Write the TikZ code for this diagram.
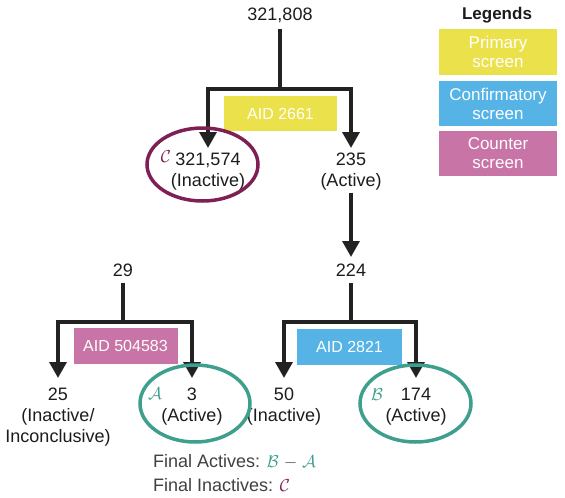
\documentclass[tikz,border=0pt]{standalone}
\usepackage{fontspec}
\setmainfont{Liberation Sans}
\usetikzlibrary{arrows.meta,shapes.geometric}
\definecolor{txt}{HTML}{1C1C1C}
\definecolor{ln}{HTML}{222222}
\definecolor{yel}{HTML}{EBE14A}
\definecolor{blu}{HTML}{55B3E6}
\definecolor{pnk}{HTML}{C974A6}
\definecolor{teal}{HTML}{3F9F8D}
\definecolor{maroon}{HTML}{7E1F55}
\definecolor{gry}{HTML}{404040}
\begin{document}
\begin{tikzpicture}[x=1pt,y=-1pt,
  lbl/.style={font=\fontsize{18}{21}\selectfont, align=center, inner sep=0pt, anchor=north, text=txt},
  scrbox/.style={fill=#1, inner sep=0pt, text=white, font=\fontsize{16}{19}\selectfont, align=center},
  wire/.style={line width=3.5pt, draw=ln, line join=miter},
  arr/.style={wire, -{Triangle[width=17pt,length=16pt]}},
  ring/.style={draw=#1, line width=3.5pt, ellipse, inner sep=0pt},
  scr/.style={inner sep=0pt, text=#1, font=\fontsize{18}{21}\selectfont},
  fin/.style={anchor=west, inner sep=0pt, text=gry, font=\fontsize{18}{21}\selectfont}
]
\useasboundingbox (0,0) rectangle (565,498);

% legend
\node[inner sep=0pt, font=\fontsize{17}{20}\selectfont\bfseries, text=txt] (leg) at (497,15) {Legends};
\node[scrbox=yel, minimum width=118pt, minimum height=46pt, font=\fontsize{17}{19}\selectfont] (lg1) at (498,52) {Primary\\screen};
\node[scrbox=blu, minimum width=118pt, minimum height=45pt, font=\fontsize{17}{19}\selectfont] (lg2) at (498,103.5) {Confirmatory\\screen};
\node[scrbox=pnk, minimum width=118pt, minimum height=45pt, font=\fontsize{17}{19}\selectfont] (lg3) at (498,153.5) {Counter\\screen};

% nodes
\node[lbl] (n0) at (280,8) {321,808};
\coordinate (j1) at (280,89);
\node[lbl] (nC) at (208,153) {321,574\\(Inactive)};
\node[lbl] (nA1) at (351,153) {235\\(Active)};
\node[lbl] (n224) at (351,264) {224};
\coordinate (j2) at (351,322);
\node[lbl] (n29) at (123,264) {29};
\coordinate (j3) at (123,322);
\node[lbl] (n25) at (58,388) {25\\(Inactive/\\Inconclusive)};
\node[lbl] (n3) at (192,388) {3\\(Active)};
\node[lbl] (n50) at (284,388) {50\\(Inactive)};
\node[lbl] (n174) at (416,388) {174\\(Active)};

% screen boxes
\node[scrbox=yel, minimum width=113pt, minimum height=35pt] (b1) at (280.5,113.5) {AID 2661};
\node[scrbox=pnk, minimum width=104pt, minimum height=36pt] (b2) at (125.5,346) {AID 504583};
\node[scrbox=blu, minimum width=105pt, minimum height=36pt] (b3) at (349.5,347) {AID 2821};

% connectors
\draw[wire, shorten <=6pt] (n0.south) -- (j1);
\draw[arr, shorten >=5pt] (j1) -| (nC.north);
\draw[arr, shorten >=5pt] (j1) -| (nA1.north);
\draw[arr, shorten <=2pt, shorten >=7pt] (nA1.south) -- (n224.north);
\draw[wire, shorten <=6pt] (n224.south) -- (j2);
\draw[arr, shorten >=10pt] (j2) -| (n50.north);
\draw[arr, shorten >=10pt] (j2) -| (n174.north);
\draw[wire, shorten <=6pt] (n29.south) -- (j3);
\draw[arr, shorten >=10pt] (j3) -| (n25.north);
\draw[arr, shorten >=10pt] (j3) -| (n3.north);

% rings
\node[ring=maroon, minimum width=111pt, minimum height=73pt] (eC) at (202.5,164.5) {};
\node[ring=teal, minimum width=110pt, minimum height=77pt] (eA) at (195,403.5) {};
\node[ring=teal, minimum width=111pt, minimum height=77pt] (eB) at (415.5,403.5) {};
\node[scr=maroon] (sC) at (166,157) {$\mathcal{C}$};
\node[scr=teal] (sA) at (155,394) {$\mathcal{A}$};
\node[scr=teal] (sB) at (377,395) {$\mathcal{B}$};

% final text
\node[fin] (f1) at (153,462) {Final Actives: \textcolor{teal}{$\mathcal{B}$} $-$ \textcolor{teal}{$\mathcal{A}$}};
\node[fin] (f2) at (153,485) {Final Inactives: \textcolor{maroon}{$\mathcal{C}$}};
\end{tikzpicture}
\end{document}
